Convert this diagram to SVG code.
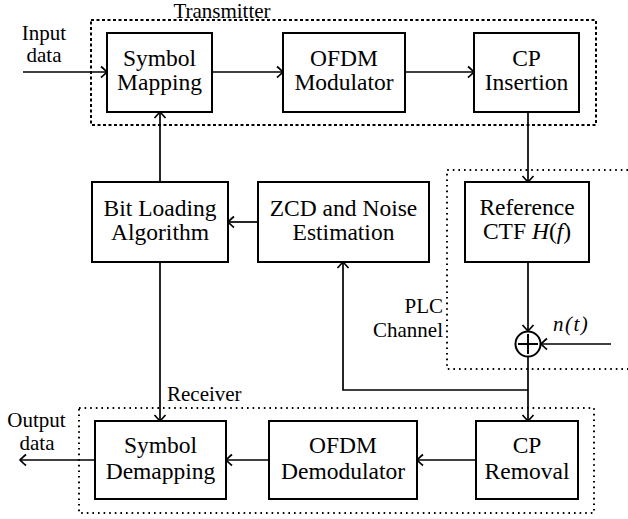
<svg xmlns="http://www.w3.org/2000/svg" width="628" height="519" viewBox="0 0 628 519">
<style>
.box{fill:#fff;stroke:#000;stroke-width:2}
.t{font-family:"Liberation Serif","Times New Roman",serif;font-size:23.5px;text-anchor:middle;fill:#000}
.l{font-family:"Liberation Serif","Times New Roman",serif;font-size:21px;fill:#000}
.c{fill:none;stroke:#000;stroke-width:1.7}
.dash{fill:none;stroke:#000;stroke-width:2;stroke-dasharray:3 2.5}
.dot{fill:none;stroke:#000;stroke-width:2;stroke-dasharray:1.6 4}
</style>
<defs>
<marker id="a" markerUnits="userSpaceOnUse" viewBox="-8 -7 10 14" refX="0" refY="0" markerWidth="10" markerHeight="14" orient="auto">
<path d="M-6,-5.5 Q-1.5,-1.5 0,0 Q-1.5,1.5 -6,5.5" fill="none" stroke="#000" stroke-width="1.7"/>
</marker>
</defs>
<g id="groups">
<rect class="dash" x="91" y="20" width="505" height="105"/>
<path class="dot" d="M628,170 H447 V369 H628"/>
<rect class="dot" x="79" y="408" width="515" height="105"/>
</g>
<g id="labels">
<text class="l" x="222" y="18" text-anchor="middle" font-size="20.5">Transmitter</text>
<text class="l" x="44" y="39.5" text-anchor="middle">Input</text>
<text class="l" x="44" y="61.5" text-anchor="middle">data</text>
<text class="l" x="36.5" y="427" text-anchor="middle">Output</text>
<text class="l" x="37" y="450" text-anchor="middle">data</text>
<text class="l" x="167" y="401" font-size="23">Receiver</text>
<text class="l" x="443" y="313" text-anchor="end" font-size="23">PLC</text>
<text class="l" x="443" y="337" text-anchor="end" font-size="23">Channel</text>
<text class="l" x="553" y="331" font-style="italic" font-size="28" letter-spacing="1.5">n(t)</text>
</g>
<g id="connectors">
<path class="c" d="M23,72 H107" marker-end="url(#a)"/>
<path class="c" d="M212,72 H283" marker-end="url(#a)"/>
<path class="c" d="M405,72 H474" marker-end="url(#a)"/>
<path class="c" d="M528,112 V182" marker-end="url(#a)"/>
<path class="c" d="M528,262 V331" marker-end="url(#a)"/>
<path class="c" d="M611,344 H541" marker-end="url(#a)"/>
<path class="c" d="M528,357 V421" marker-end="url(#a)"/>
<path class="c" d="M528,390 H343 V262" marker-end="url(#a)"/>
<path class="c" d="M258,222 H228" marker-end="url(#a)"/>
<path class="c" d="M160,182 V112" marker-end="url(#a)"/>
<path class="c" d="M160,262 V421" marker-end="url(#a)"/>
<path class="c" d="M476,460 H417" marker-end="url(#a)"/>
<path class="c" d="M269,460 H226" marker-end="url(#a)"/>
<path class="c" d="M95,460 H20" marker-end="url(#a)"/>
</g>
<g id="sum">
<circle cx="528" cy="344" r="12.5" fill="#fff" stroke="#000" stroke-width="2"/>
<path d="M518,344 H538 M528,334 V354" stroke="#000" stroke-width="2"/>
</g>
<g id="symbol-mapping">
<rect class="box" x="107" y="33" width="105" height="79"/>
<text class="t" x="159.5" y="66">Symbol</text>
<text class="t" x="159.5" y="89.5">Mapping</text>
</g>
<g id="ofdm-modulator">
<rect class="box" x="283" y="33" width="122" height="79"/>
<text class="t" x="344" y="66">OFDM</text>
<text class="t" x="344" y="89.5">Modulator</text>
</g>
<g id="cp-insertion">
<rect class="box" x="474" y="33" width="105" height="79"/>
<text class="t" x="526.5" y="66">CP</text>
<text class="t" x="526.5" y="89.5">Insertion</text>
</g>
<g id="bit-loading">
<rect class="box" x="92" y="182" width="136" height="80"/>
<text class="t" x="160" y="216">Bit Loading</text>
<text class="t" x="160" y="240">Algorithm</text>
</g>
<g id="zcd">
<rect class="box" x="258" y="182" width="171" height="80"/>
<text class="t" x="343.5" y="216">ZCD and Noise</text>
<text class="t" x="343.5" y="240">Estimation</text>
</g>
<g id="reference-ctf">
<rect class="box" x="465" y="182" width="124" height="80"/>
<text class="t" x="527" y="215">Reference</text>
<text class="t" x="527" y="239">CTF <tspan font-style="italic">H</tspan>(<tspan font-style="italic">f</tspan>)</text>
</g>
<g id="symbol-demapping">
<rect class="box" x="95" y="421" width="131" height="78"/>
<text class="t" x="160.5" y="453">Symbol</text>
<text class="t" x="160.5" y="479">Demapping</text>
</g>
<g id="ofdm-demodulator">
<rect class="box" x="269" y="421" width="148" height="78"/>
<text class="t" x="343" y="453">OFDM</text>
<text class="t" x="343" y="479">Demodulator</text>
</g>
<g id="cp-removal">
<rect class="box" x="476" y="421" width="102" height="78"/>
<text class="t" x="527" y="453">CP</text>
<text class="t" x="527" y="479">Removal</text>
</g>
</svg>
